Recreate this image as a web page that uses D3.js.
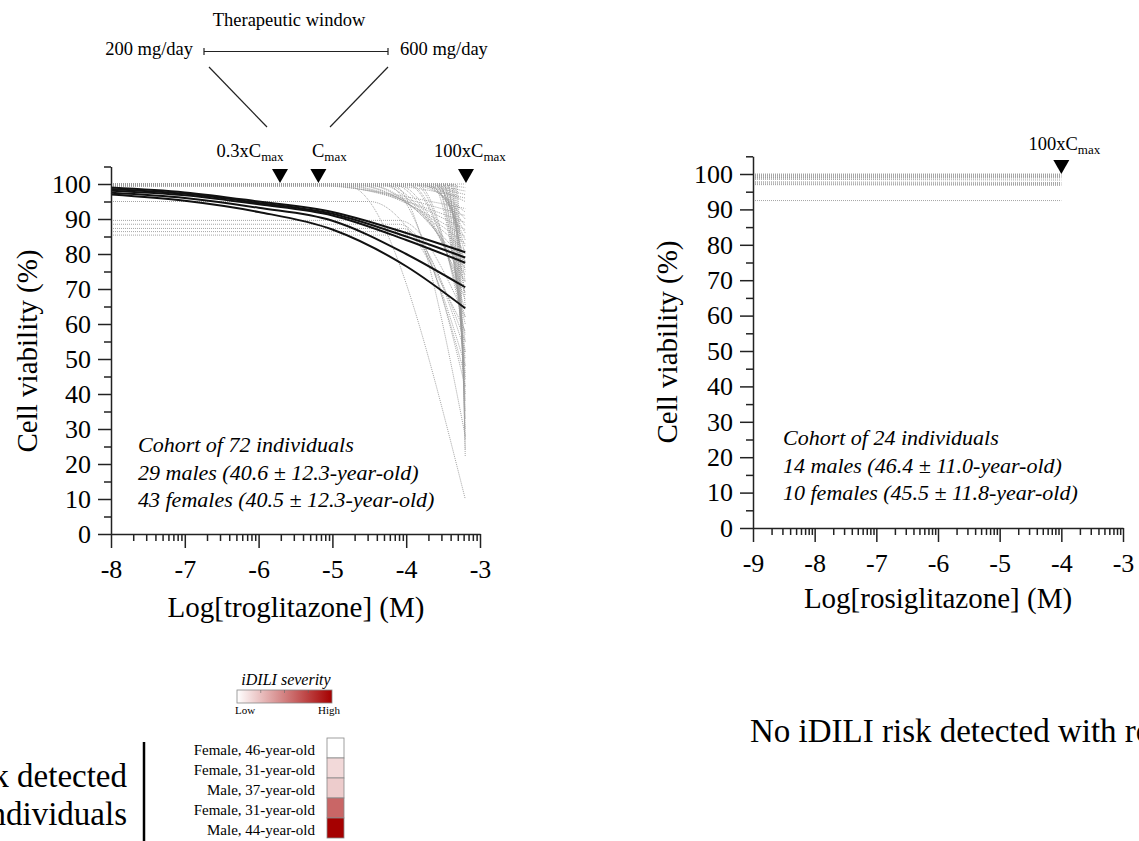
<!DOCTYPE html>
<html>
<head>
<meta charset="utf-8">
<script src="https://cdn.jsdelivr.net/npm/d3@7"></script>
<style>
body { margin: 0; background: #fff; overflow: hidden; }
svg text { font-family: "Liberation Serif", "Times New Roman", serif; fill: #000; }
</style>
</head>
<body>
<script>
const width = 1139;
const height = 841;
const serif = "Liberation Serif, Times New Roman, serif";

// troglitazone panel
const trogTicks = [-8, -7, -6, -5, -4, -3];
const trogMaxLog = -3.2;
const trogMarkers = [-5.71, -5.19, -3.19];
const trogMarkerLabels = ["0.3xC", "C", "100xC"];

// individuals with iDILI risk (black), viability at these log concentrations
const riskLogC = [-8, -7, -6, -5, -4, -3.2];
const riskCurves = [
    [99.0, 97.6, 95.0, 92.0, 86.0, 80.5],
    [98.6, 97.2, 94.6, 91.5, 85.0, 79.0],
    [98.1, 96.8, 94.2, 91.0, 84.0, 77.5],
    [97.5, 96.0, 93.2, 89.5, 80.0, 70.5],
    [97.0, 95.2, 92.0, 87.0, 76.5, 64.5]
];

// rest of the cohort (gray): [plateau, log conc where it starts to drop, viability at max conc]
const trogOthers = [
    [100, -3.6, 100], [100, -3.7, 99], [99.6, -3.8, 98], [99.8, -4.0, 97], [99.5, -4.3, 96],
    [100, -5.6, 93], [100, -5.4, 91], [99.7, -5.2, 89], [100, -5.0, 87], [99.5, -4.9, 85],
    [100, -4.8, 83], [99.8, -4.7, 81], [100, -4.6, 78], [99.6, -4.5, 76], [100, -4.4, 74],
    [99.8, -4.3, 72], [100, -4.2, 69], [99.5, -4.1, 67], [100, -4.0, 64], [99.7, -3.95, 62],
    [100, -3.9, 60], [99.8, -3.85, 57],
    [100, -3.95, 95], [99.6, -3.9, 92], [100, -3.85, 90], [99.8, -3.8, 88], [100, -3.75, 86],
    [99.5, -3.7, 84], [100, -3.65, 82], [99.7, -3.6, 80], [100, -3.6, 77], [99.8, -3.55, 75],
    [100, -3.5, 72], [99.6, -3.5, 68], [100, -3.45, 65],
    [99.8, -3.65, 55], [100, -3.6, 52], [99.5, -3.6, 50], [100, -3.55, 48], [99.7, -3.55, 46],
    [100, -3.5, 44], [99.6, -3.5, 42], [100, -3.45, 40], [99.8, -3.45, 38], [100, -3.4, 35],
    [99.5, -3.4, 33], [100, -3.38, 30], [99.7, -3.36, 27], [100, -3.34, 24], [99.8, -3.32, 22],
    [100, -4.3, 45], [99.5, -4.8, 10], [100, -4.2, 28],
    [95, -4.5, 58], [89.6, -4.1, 62], [88.5, -4.1, 55], [87.3, -4.05, 48], [86.4, -4.0, 52], [85.4, -3.95, 42]
];

// rosiglitazone panel
const rosiTicks = [-9, -8, -7, -6, -5, -4, -3];
const rosiMinLog = -9;
const rosiMaxLog = -4;
const rosiMarkers = [-4];
const rosiMarkerLabels = ["100xC"];
// [viability at lowest conc, viability at highest conc]
const rosiCurves = [
    [100, 100], [99.8, 99.8], [99.6, 99.7], [99.4, 99.5], [99.2, 99.3], [99.0, 99.1],
    [98.8, 98.9], [98.5, 98.3], [97.8, 97.6], [97.5, 97.3], [97.2, 97.0], [97.0, 96.8],
    [92.5, 92.5]
];

const yMajor = [0, 10, 20, 30, 40, 50, 60, 70, 80, 90, 100];
const yMinor = [5, 15, 25, 35, 45, 55, 65, 75, 85, 95, 105];

// legend
const severityNames = ["Female, 46-year-old", "Female, 31-year-old", "Male, 37-year-old", "Female, 31-year-old", "Male, 44-year-old"];
const severityValues = [0, 0.15, 0.2, 0.6, 1];

let svg = d3.select("body").append("svg")
    .attr("width", width)
    .attr("height", height)
    .attr("font-family", serif);

function minorLogTicks(ticks) {
    let out = [];
    ticks.slice(0, -1).forEach(t => {
        for (let k = 2; k <= 9; k++) out.push(t + Math.log10(k));
    });
    return out;
}

function drawPanel(p) {
    let x = d3.scaleLinear().domain([p.ticks[0], p.ticks[p.ticks.length - 1]]).range(p.xRange);
    let y = d3.scaleLinear().domain([0, 105]).range([p.y0, p.y0 - 105 * p.yUnit]);
    let line = d3.line()
        .x(d => x(d[0]))
        .y(d => y(d[1]))
        .curve(d3.curveMonotoneX);

    svg.append("g").selectAll("path")
        .data(p.gray)
        .join("path")
        .attr("d", line)
        .attr("fill", "none")
        .attr("stroke", "#9a9a9a")
        .attr("stroke-width", 0.9)
        .attr("stroke-dasharray", "1,1");

    svg.append("g").selectAll("path")
        .data(p.black)
        .join("path")
        .attr("d", line)
        .attr("fill", "none")
        .attr("stroke", "#111")
        .attr("stroke-width", 2);

    let yAx = svg.append("g")
        .attr("transform", `translate(${p.xRange[0]},0)`)
        .call(d3.axisLeft(y).tickValues(yMajor).tickSize(13).tickSizeOuter(0).tickPadding(7).tickFormat(d => String(d)));
    svg.append("g")
        .attr("transform", `translate(${p.xRange[0]},0)`)
        .call(d3.axisLeft(y).tickValues(yMinor).tickSize(7).tickSizeOuter(0).tickFormat(""))
        .select(".domain").remove();

    let xAx = svg.append("g")
        .attr("transform", `translate(0,${p.y0})`)
        .call(d3.axisBottom(x).tickValues(p.ticks).tickSize(14).tickSizeOuter(0).tickPadding(12).tickFormat(d => String(d)));
    svg.append("g")
        .attr("transform", `translate(0,${p.y0})`)
        .call(d3.axisBottom(x).tickValues(minorLogTicks(p.ticks)).tickSize(7).tickSizeOuter(0).tickFormat(""))
        .select(".domain").remove();

    svg.selectAll(".domain, .tick line")
        .attr("stroke", "#222")
        .attr("stroke-width", 1.5);
    [yAx, xAx].forEach(a => {
        a.attr("font-family", serif).attr("font-size", 26);
        a.selectAll("text").style("font-size", "26px").style("font-family", serif);
    });

    svg.append("text")
        .attr("transform", `translate(${p.yTitleX},${p.yTitleY}) rotate(-90)`)
        .attr("text-anchor", "middle")
        .style("font-size", "29px")
        .text("Cell viability (%)");

    svg.append("text")
        .attr("x", p.xTitleX)
        .attr("y", p.xTitleY)
        .attr("text-anchor", "middle")
        .style("font-size", "29px")
        .text(p.xTitle);

    let cohort = svg.append("text")
        .attr("x", p.cohortX)
        .attr("y", p.cohortY)
        .style("font-size", "22px")
        .style("font-style", "italic");
    p.cohort.forEach((c, i) => {
        cohort.append("tspan")
            .attr("x", p.cohortX)
            .attr("y", p.cohortY + i * 27.5)
            .text(c);
    });

    // concentration markers
    p.markers.forEach((m, i) => {
        let mx = x(m);
        svg.append("path")
            .attr("d", `M${mx - 8},${p.triTop}L${mx + 8},${p.triTop}L${mx},${p.triTop + 14}Z`)
            .attr("fill", "#000");
        let t = svg.append("text")
            .attr("x", mx + p.labelDx[i])
            .attr("y", p.labelY)
            .attr("text-anchor", "middle")
            .style("font-size", "18.5px")
            .text(p.markerLabels[i]);
        t.append("tspan")
            .attr("dy", 4)
            .style("font-size", "13px")
            .text("max");
    });
    return { x, y };
}

drawPanel({
    ticks: trogTicks,
    xRange: [111, 480],
    y0: 534,
    yUnit: 3.5,
    gray: trogOthers.map(c => [[trogTicks[0], c[0]], [c[1], c[0]], [trogMaxLog, c[2]]]),
    black: riskCurves.map(c => c.map((v, i) => [riskLogC[i], v])),
    yTitleX: 37, yTitleY: 351,
    xTitle: "Log[troglitazone] (M)",
    xTitleX: 296, xTitleY: 617,
    cohortX: 138, cohortY: 452,
    cohort: ["Cohort of 72 individuals", "29 males (40.6 ± 12.3-year-old)", "43 females (40.5 ± 12.3-year-old)"],
    markers: trogMarkers,
    markerLabels: trogMarkerLabels,
    labelDx: [-30, 11, 4],
    labelY: 157,
    triTop: 169
});

drawPanel({
    ticks: rosiTicks,
    xRange: [753, 1123],
    y0: 528,
    yUnit: 3.54,
    gray: rosiCurves.map(c => [[rosiMinLog, c[0]], [rosiMaxLog, c[1]]]),
    black: [],
    yTitleX: 677, yTitleY: 342,
    xTitle: "Log[rosiglitazone] (M)",
    xTitleX: 938, xTitleY: 608,
    cohortX: 783, cohortY: 445,
    cohort: ["Cohort of 24 individuals", "14 males (46.4 ± 11.0-year-old)", "10 females (45.5 ± 11.8-year-old)"],
    markers: rosiMarkers,
    markerLabels: rosiMarkerLabels,
    labelDx: [3],
    labelY: 150,
    triTop: 160
});

// therapeutic window annotation
svg.append("text")
    .attr("x", 289).attr("y", 26)
    .attr("text-anchor", "middle")
    .style("font-size", "18.5px")
    .text("Therapeutic window");
svg.append("text")
    .attr("x", 193).attr("y", 55)
    .attr("text-anchor", "end")
    .style("font-size", "18.5px")
    .text("200 mg/day");
svg.append("text")
    .attr("x", 400).attr("y", 55)
    .style("font-size", "18.5px")
    .text("600 mg/day");

let ann = svg.append("g")
    .attr("stroke", "#222")
    .attr("stroke-width", 1.2);
ann.append("line").attr("x1", 204).attr("x2", 388).attr("y1", 51.5).attr("y2", 51.5);
ann.append("line").attr("x1", 204).attr("x2", 204).attr("y1", 48).attr("y2", 55);
ann.append("line").attr("x1", 388).attr("x2", 388).attr("y1", 48).attr("y2", 55);
ann.append("line").attr("x1", 209).attr("y1", 67).attr("x2", 267).attr("y2", 127);
ann.append("line").attr("x1", 388).attr("y1", 67).attr("x2", 330).attr("y2", 127);

// severity legend
let sevColor = d3.scaleLinear().domain([0, 1]).range(["#ffffff", "#a50000"]);

let grad = svg.append("defs").append("linearGradient")
    .attr("id", "sev");
[0, 0.25, 0.5, 0.75, 1].forEach(s => {
    grad.append("stop").attr("offset", s).attr("stop-color", sevColor(s));
});

svg.append("text")
    .attr("x", 286).attr("y", 685)
    .attr("text-anchor", "middle")
    .style("font-size", "16px")
    .style("font-style", "italic")
    .text("iDILI severity");
svg.append("rect")
    .attr("x", 237).attr("y", 690)
    .attr("width", 95).attr("height", 13)
    .attr("fill", "url(#sev)")
    .attr("stroke", "#888")
    .attr("stroke-width", 0.8);
[0.25, 0.5, 0.75].forEach(s => {
    svg.append("line")
        .attr("x1", 237 + 95 * s).attr("x2", 237 + 95 * s)
        .attr("y1", 690).attr("y2", 693)
        .attr("stroke", "#666").attr("stroke-width", 0.6);
});
svg.append("text")
    .attr("x", 245).attr("y", 714)
    .attr("text-anchor", "middle")
    .style("font-size", "11px")
    .text("Low");
svg.append("text")
    .attr("x", 329).attr("y", 714)
    .attr("text-anchor", "middle")
    .style("font-size", "11px")
    .text("High");

let rows = svg.append("g").selectAll("g")
    .data(severityNames)
    .join("g")
    .attr("transform", (d, i) => `translate(0,${738 + i * 20})`);
rows.append("rect")
    .attr("x", 327).attr("width", 17).attr("height", 20)
    .attr("fill", (d, i) => sevColor(severityValues[i]))
    .attr("stroke", "#888")
    .attr("stroke-width", 0.8);
rows.append("text")
    .attr("x", 315).attr("y", 17)
    .attr("text-anchor", "end")
    .style("font-size", "15px")
    .text(d => d);

// bottom statements
svg.append("text")
    .attr("x", 127).attr("y", 787)
    .attr("text-anchor", "end")
    .style("font-size", "33px")
    .text("iDILI risk detected");
svg.append("text")
    .attr("x", 127).attr("y", 825)
    .attr("text-anchor", "end")
    .style("font-size", "33px")
    .text("in 5 individuals");
svg.append("line")
    .attr("x1", 144).attr("x2", 144)
    .attr("y1", 742).attr("y2", height)
    .attr("stroke", "#000")
    .attr("stroke-width", 2.5);
svg.append("text")
    .attr("x", 750).attr("y", 742)
    .style("font-size", "33px")
    .text("No iDILI risk detected with rosiglitazone");
</script>
</body>
</html>
